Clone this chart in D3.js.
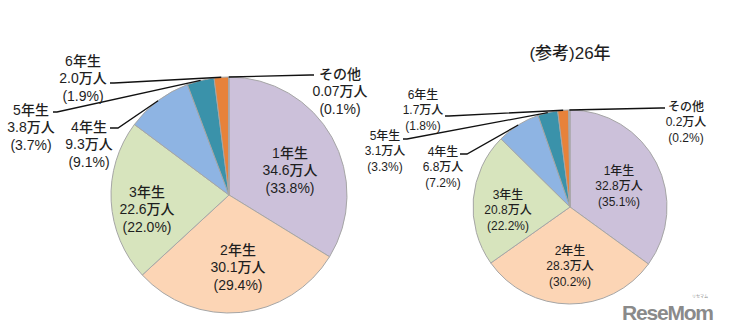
<!DOCTYPE html>
<html><head><meta charset="utf-8">
<script src="https://cdn.jsdelivr.net/npm/d3@7"></script>
<style>
html,body{margin:0;padding:0;background:#fff;}
svg{display:block;}
text{font-family:"Liberation Sans","Noto Sans CJK JP",sans-serif;fill:#1e1e1e;}
</style></head>
<body>
<svg id="chart" width="730" height="334"></svg>
<script>
// ---- data ----
const categories = ["1年生","2年生","3年生","4年生","5年生","6年生","その他"];
const values27 = [34.6, 30.1, 22.6, 9.3, 3.8, 2.0, 0.07];   // 万人
const percents27 = [33.8, 29.4, 22.0, 9.1, 3.7, 1.9, 0.1];
const values26 = [32.8, 28.3, 20.8, 6.8, 3.1, 1.7, 0.2];
const percents26 = [35.1, 30.2, 22.2, 7.2, 3.3, 1.8, 0.2];
const title26 = "(参考)26年";
const colors = ["#ccc1da","#fcd5b5","#d7e4bd","#8eb4e3","#3a92aa","#e7823a","#b8b8b8"];

// ---- layout ----
const pies = [
  { values: values27, percents: percents27, cx: 229, cy: 195, r: 118, fs: 14, lh: 17.5, title: null,
    labels: [
      {type:"in", x: 290, y: 170},
      {type:"in", x: 238, y: 267},
      {type:"in", x: 147, y: 209},
      {type:"out", x: 89, y: 144, lead: [[110,128],[118,128]]},
      {type:"out", x: 31, y: 127, lead: [[53,112],[57,112]]},
      {type:"out", x: 83, y: 78, lead: [[110,83],[114,83]]},
      {type:"out", x: 340, y: 91, lead: [[314,75],[310,75]]}
    ]},
  { values: values26, percents: percents26, cx: 570, cy: 207, r: 97, fs: 12, lh: 15.5, title: title26,
    labels: [
      {type:"in", x: 619, y: 186},
      {type:"in", x: 570, y: 266},
      {type:"in", x: 508, y: 210},
      {type:"out", x: 443, y: 167, lead: [[460,154],[467,154]]},
      {type:"out", x: 385, y: 151, lead: [[403,139],[407,139]]},
      {type:"out", x: 423, y: 110, lead: [[445,116],[449,116]]},
      {type:"out", x: 686, y: 122, lead: [[665,108],[661,108]]}
    ]}
];

const svg = d3.select("#chart");
const fmtVal = v => v < 0.1 ? v.toFixed(2) : v.toFixed(1);

pies.forEach(p => {
  const pie = d3.pie().sort(null).value(d => d)(p.values);
  const arc = d3.arc().innerRadius(0).outerRadius(p.r);
  const g = svg.append("g").attr("transform", `translate(${p.cx},${p.cy})`);
  g.selectAll("path").data(pie).join("path")
    .attr("d", arc)
    .attr("fill", (d,i) => colors[i])
    .attr("stroke", "#a6a6a6")
    .attr("stroke-width", 1);

  // leader lines
  const outer = d3.arc().innerRadius(p.r).outerRadius(p.r);
  p.labels.forEach((L, i) => {
    if (L.type !== "out") return;
    const c = outer.centroid(pie[i]);
    const pts = L.lead.concat([[p.cx + c[0], p.cy + c[1]]]);
    svg.append("path")
      .attr("d", d3.line()(pts))
      .attr("fill", "none")
      .attr("stroke", "#111")
      .attr("stroke-width", 1.3);
  });

  // labels
  p.labels.forEach((L, i) => {
    const lines = [categories[i], fmtVal(p.values[i]) + "万人", "(" + p.percents[i].toFixed(1) + "%)"];
    lines.forEach((s, k) => {
      svg.append("text")
        .attr("text-anchor", "middle")
        .attr("font-size", p.fs)
        .attr("font-weight", 500)
        .attr("x", L.x)
        .attr("y", L.y + (k - 1) * p.lh)
        .attr("dominant-baseline", "central")
        .text(s);
    });
  });

  if (p.title) {
    svg.append("text")
      .attr("x", p.cx)
      .attr("y", 53)
      .attr("text-anchor", "middle")
      .attr("dominant-baseline", "central")
      .attr("font-size", 17)
      .attr("font-weight", 500)
      .text(p.title);
  }
});

// watermark
svg.append("text")
  .attr("x", 622).attr("y", 320)
  .attr("font-family", "Roboto, 'Liberation Sans', sans-serif")
  .attr("font-weight", "bold")
  .attr("font-size", 21)
  .style("fill", "#8a8a8a")
  .attr("textLength", 92)
  .text("ReseMom");
svg.append("text")
  .attr("x", 700).attr("y", 297.5)
  .attr("text-anchor", "middle")
  .attr("font-size", 4)
  .style("fill", "#8a8a8a")
  .text("リセマム");
</script>
</body></html>
